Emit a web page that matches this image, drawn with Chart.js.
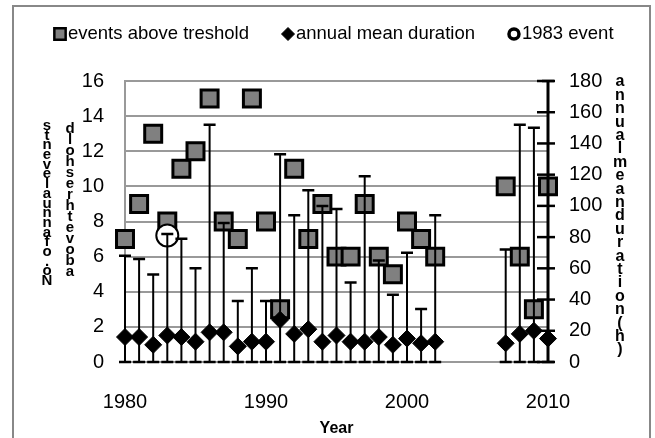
<!DOCTYPE html>
<html>
<head>
<meta charset="utf-8">
<script src="https://cdn.jsdelivr.net/npm/chart.js@4.4.0/dist/chart.umd.min.js"></script>
<style>
    html, body { margin: 0; padding: 0; background: #ffffff; }
</style>
</head>
<body>
<canvas id="chart" width="655" height="438"></canvas>
<script>
// ---- data ----
const years = [1980, 1981, 1982, 1983, 1984, 1985, 1986, 1987, 1988, 1989, 1990,
               1991, 1992, 1993, 1994, 1995, 1996, 1997, 1998, 1999, 2000, 2001, 2002,
               2007, 2008, 2009, 2010];
// number of events above threshold (left axis)
const eventsAbove = [7, 9, 13, 8, 11, 12, 15, 8, 7, 15, 8,
                     3, 11, 7, 9, 6, 6, 9, 6, 5, 8, 7, 6,
                     10, 6, 3, 10];
// annual mean duration, hours (right axis)
const meanDuration = [16, 16, 11, 17, 16, 13, 19, 19, 10, 13, 13,
                      27, 18, 21, 13, 17, 13, 13, 16, 11, 15, 12, 13,
                      12, 18, 20, 15];
// upper end of the vertical bars, hours (right axis)
const maxDuration = [68, 66, 56, 82, 79, 60, 152, 89, 39, 60, 39,
                     133, 94, 110, 100, 98, 51, 119, 65, 43, 70, 34, 94,
                     72, 152, 150, 180];
const event1983Year = [1983];
const event1983Duration = [81];

const leftTicks = [0, 2, 4, 6, 8, 10, 12, 14, 16];
const rightTicks = [0, 20, 40, 60, 80, 100, 120, 140, 160, 180];
const xTicks = [1980, 1990, 2000, 2010];

const leftTitle = ['No. of annual events', 'above threshold'];
const rightTitle = 'annual mean duration (h)';

const FONT = "'Liberation Sans', Arial, sans-serif";

// outer frame
const framePlugin = {
    id: 'frame',
    beforeDraw(chart) {
        const ctx = chart.ctx;
        ctx.save();
        ctx.strokeStyle = '#888888';
        ctx.lineWidth = 2;
        ctx.strokeRect(13, 6, 637, 445);
        ctx.restore();
    }
};

// error bars + right axis line, drawn between the circle and the diamonds
const barsPlugin = {
    id: 'bars',
    afterDatasetDraw(chart, args) {
        if (chart.data.datasets[args.index].label !== '1983 event') return;
        const ctx = chart.ctx;
        const xs = chart.scales.x;
        const y2 = chart.scales.y2;
        ctx.save();
        ctx.strokeStyle = '#000000';
        years.forEach((yr, i) => {
            const x = xs.getPixelForValue(yr);
            const y0 = y2.getPixelForValue(0);
            const y1 = y2.getPixelForValue(maxDuration[i]);
            ctx.lineWidth = 2;
            ctx.beginPath();
            ctx.moveTo(x, y0);
            ctx.lineTo(x, y1);
            ctx.stroke();
            ctx.lineWidth = 2.5;
            ctx.beginPath();
            ctx.moveTo(x - 6, y0);
            ctx.lineTo(x + 6, y0);
            ctx.moveTo(x - 6, y1);
            ctx.lineTo(x + 6, y1);
            ctx.stroke();
        });

        // right axis with crossing tick marks
        const ax = chart.chartArea.right;
        ctx.lineWidth = 3;
        ctx.beginPath();
        ctx.moveTo(ax, y2.getPixelForValue(rightTicks[0]));
        ctx.lineTo(ax, y2.getPixelForValue(rightTicks[rightTicks.length - 1]));
        ctx.stroke();
        ctx.lineWidth = 2.5;
        rightTicks.forEach(v => {
            const ty = y2.getPixelForValue(v);
            ctx.beginPath();
            ctx.moveTo(ax - 11, ty);
            ctx.lineTo(ax + 7, ty);
            ctx.stroke();
        });
        ctx.restore();
    }
};

// legend and the stacked axis titles
const textPlugin = {
    id: 'texts',
    afterDraw(chart) {
        const ctx = chart.ctx;
        const helpers = Chart.helpers;
        ctx.save();

        // legend
        ctx.font = '18.5px ' + FONT;
        ctx.textBaseline = 'middle';
        ctx.textAlign = 'left';
        ctx.fillStyle = '#000000';
        const legendY = 34;
        const items = [
            { text: chart.data.datasets[0].label, style: 'rect', r: 8, bg: '#808080', bw: 2.5 },
            { text: chart.data.datasets[1].label, style: 'rectRot', r: 6.5, bg: '#000000', bw: 1 },
            { text: chart.data.datasets[2].label, style: 'circle', r: 5, bg: '#ffffff', bw: 3.5 }
        ];
        let x = 54;
        items.forEach(it => {
            ctx.save();
            ctx.fillStyle = it.bg;
            ctx.strokeStyle = '#000000';
            ctx.lineWidth = it.bw;
            helpers.drawPoint(ctx, { pointStyle: it.style, radius: it.r, borderWidth: it.bw }, x + 6, legendY);
            ctx.restore();
            ctx.fillText(it.text, x + 14, legendY);
            x += 14 + ctx.measureText(it.text).width + 33;
        });

        // left titles: characters stacked bottom to top
        ctx.font = 'bold 15px ' + FONT;
        ctx.textAlign = 'center';
        const cols = [{ x: 47, y: 281, step: 9.7 }, { x: 70, y: 272, step: 11 }];
        leftTitle.forEach((t, k) => {
            const chars = t.replace(/ /g, '').split('');
            chars.forEach((c, i) => {
                ctx.fillText(c, cols[k].x, cols[k].y - i * cols[k].step);
            });
        });

        // right title: characters stacked top to bottom
        ctx.font = 'bold 16px ' + FONT;
        const rchars = rightTitle.replace(/ /g, '').split('');
        rchars.forEach((c, i) => {
            ctx.fillText(c, 620, 82 + i * 13.4);
        });
        ctx.restore();
    }
};

new Chart(document.getElementById('chart'), {
    type: 'scatter',
    data: {
        datasets: [{
            label: 'events above treshold',
            data: years.map((yr, i) => ({ x: yr, y: eventsAbove[i] })),
            yAxisID: 'y',
            clip: false,
            pointStyle: 'rect',
            pointRadius: 12,
            pointBackgroundColor: '#808080',
            pointBorderColor: '#000000',
            pointBorderWidth: 3,
            order: 3
        }, {
            label: 'annual mean duration',
            data: years.map((yr, i) => ({ x: yr, y: meanDuration[i] })),
            yAxisID: 'y2',
            clip: false,
            pointStyle: 'rectRot',
            pointRadius: 8.5,
            pointBackgroundColor: '#000000',
            pointBorderColor: '#000000',
            pointBorderWidth: 1,
            order: 1
        }, {
            label: '1983 event',
            data: event1983Year.map((yr, i) => ({ x: yr, y: event1983Duration[i] })),
            yAxisID: 'y2',
            clip: false,
            pointStyle: 'circle',
            pointRadius: 11,
            pointBackgroundColor: '#ffffff',
            pointBorderColor: '#000000',
            pointBorderWidth: 2,
            order: 2
        }]
    },
    options: {
        responsive: false,
        animation: false,
        layout: {
            padding: { top: 81, left: 0, right: 0, bottom: 0 }
        },
        plugins: {
            legend: { display: false },
            tooltip: { enabled: false }
        },
        scales: {
            x: {
                type: 'linear',
                min: xTicks[0],
                max: xTicks[xTicks.length - 1],
                afterBuildTicks: (s) => { s.ticks = xTicks.map(v => ({ value: v })); },
                afterFit: (s) => { s.height = 76; },
                grid: { display: false, drawTicks: false },
                border: { display: false },
                ticks: {
                    color: '#000000',
                    padding: 28,
                    maxRotation: 0,
                    callback: (v) => String(v),
                    font: { family: FONT, size: 20 }
                },
                title: {
                    display: true,
                    text: 'Year',
                    color: '#000000',
                    padding: { top: 0, bottom: 0 },
                    font: { family: FONT, size: 16, weight: 'bold' }
                }
            },
            y: {
                position: 'left',
                min: leftTicks[0],
                max: leftTicks[leftTicks.length - 1],
                afterBuildTicks: (s) => { s.ticks = leftTicks.map(v => ({ value: v })); },
                afterFit: (s) => { s.width = 125; },
                grid: {
                    color: '#999999',
                    lineWidth: 2,
                    drawTicks: false
                },
                border: { color: '#999999', width: 2 },
                ticks: {
                    color: '#000000',
                    padding: 21,
                    font: { family: FONT, size: 20 }
                }
            },
            y2: {
                position: 'right',
                min: rightTicks[0],
                max: rightTicks[rightTicks.length - 1],
                afterBuildTicks: (s) => { s.ticks = rightTicks.map(v => ({ value: v })); },
                afterFit: (s) => { s.width = 107; },
                grid: { display: false, drawTicks: false },
                border: { display: false },
                ticks: {
                    color: '#000000',
                    padding: 21,
                    font: { family: FONT, size: 20 }
                }
            }
        }
    },
    plugins: [framePlugin, barsPlugin, textPlugin]
});
</script>
</body>
</html>
